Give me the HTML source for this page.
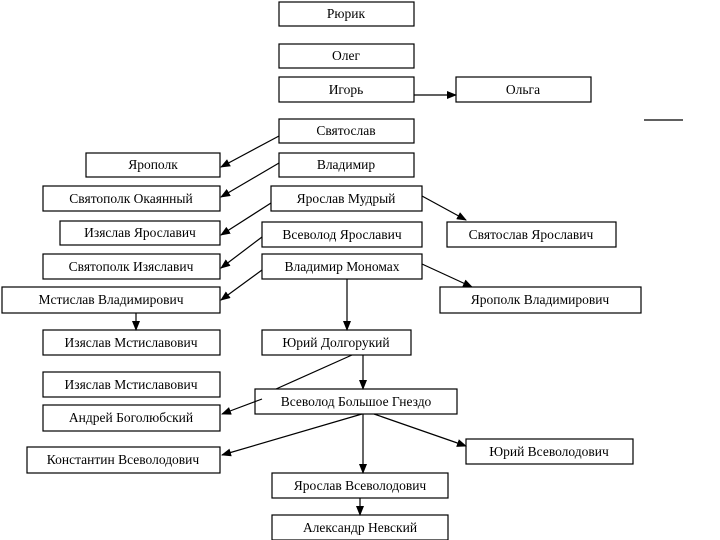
<!DOCTYPE html>
<html><head><meta charset="utf-8"><style>
html,body{margin:0;padding:0;background:#fff;}
svg{display:block;}
text{font-family:"Liberation Serif","DejaVu Serif",serif;font-size:13.5px;fill:#000;text-anchor:middle;}
rect{fill:#fff;stroke:#000;stroke-width:1.2;}
line,path{stroke:#000;stroke-width:1.2;fill:none;}
</style></head><body>
<svg width="720" height="540" viewBox="0 0 720 540" xmlns="http://www.w3.org/2000/svg">
<defs><marker id="a" markerWidth="10" markerHeight="8" refX="9" refY="4" orient="auto" markerUnits="userSpaceOnUse"><path d="M0,0 L10,4 L0,8 z" style="fill:#000;stroke:none"/></marker></defs>
<g>
<rect x="279" y="2" width="135" height="24"/><text x="346" y="18">Рюрик</text>
<rect x="279" y="44" width="135" height="24"/><text x="346" y="60">Олег</text>
<rect x="279" y="77" width="135" height="25"/><text x="346" y="94">Игорь</text>
<rect x="456" y="77" width="135" height="25"/><text x="523" y="94">Ольга</text>
<line x1="644" y1="120" x2="683" y2="120"/>
<rect x="279" y="119" width="135" height="24"/><text x="346" y="135">Святослав</text>
<rect x="86" y="153" width="134" height="24"/><text x="153" y="169">Ярополк</text>
<rect x="279" y="153" width="135" height="24"/><text x="346" y="169">Владимир</text>
<rect x="43" y="186" width="177" height="25"/><text x="131" y="203">Святополк Окаянный</text>
<rect x="271" y="186" width="151" height="25"/><text x="346" y="203">Ярослав Мудрый</text>
<rect x="60" y="221" width="160" height="24"/><text x="140" y="237">Изяслав Ярославич</text>
<rect x="262" y="222" width="160" height="25"/><text x="342" y="239">Всеволод Ярославич</text>
<rect x="447" y="222" width="169" height="25"/><text x="531" y="239">Святослав Ярославич</text>
<rect x="43" y="254" width="177" height="25"/><text x="131" y="271">Святополк Изяславич</text>
<rect x="262" y="254" width="160" height="25"/><text x="342" y="271">Владимир Мономах</text>
<rect x="2" y="287" width="218" height="26"/><text x="111" y="304">Мстислав Владимирович</text>
<rect x="440" y="287" width="201" height="26"/><text x="540" y="304">Ярополк Владимирович</text>
<rect x="43" y="330" width="177" height="25"/><text x="131" y="347">Изяслав Мстиславович</text>
<rect x="262" y="330" width="149" height="25"/><text x="336" y="347">Юрий Долгорукий</text>
<rect x="43" y="372" width="177" height="25"/><text x="131" y="389">Изяслав Мстиславович</text>
<rect x="255" y="389" width="202" height="25"/><text x="356" y="406">Всеволод Большое Гнездо</text>
<rect x="43" y="405" width="177" height="26"/><text x="131" y="422">Андрей Боголюбский</text>
<rect x="27" y="447" width="193" height="26"/><text x="123" y="464">Константин Всеволодович</text>
<rect x="466" y="439" width="167" height="25"/><text x="549" y="456">Юрий Всеволодович</text>
<rect x="272" y="473" width="176" height="25"/><text x="360" y="490">Ярослав Всеволодович</text>
<rect x="272" y="515" width="176" height="25"/><text x="360" y="532">Александр Невский</text>
</g>
<g>
<line x1="414" y1="95" x2="456" y2="95" marker-end="url(#a)"/>
<line x1="279" y1="136" x2="221" y2="167" marker-end="url(#a)"/>
<line x1="279" y1="163" x2="221" y2="197" marker-end="url(#a)"/>
<line x1="271" y1="203" x2="221" y2="235" marker-end="url(#a)"/>
<line x1="262" y1="237" x2="221" y2="268" marker-end="url(#a)"/>
<line x1="262" y1="270" x2="221" y2="300" marker-end="url(#a)"/>
<line x1="422" y1="196" x2="466" y2="220" marker-end="url(#a)"/>
<line x1="422" y1="264" x2="472" y2="287" marker-end="url(#a)"/>
<line x1="136" y1="313" x2="136" y2="330" marker-end="url(#a)"/>
<line x1="347" y1="279" x2="347" y2="330" marker-end="url(#a)"/>
<line x1="352" y1="355" x2="276" y2="389"/>
<line x1="363" y1="355" x2="363" y2="389" marker-end="url(#a)"/>
<line x1="262" y1="399" x2="222" y2="414" marker-end="url(#a)"/>
<line x1="362" y1="414" x2="222" y2="455" marker-end="url(#a)"/>
<line x1="363" y1="414" x2="363" y2="473" marker-end="url(#a)"/>
<line x1="374" y1="414" x2="466" y2="446" marker-end="url(#a)"/>
<line x1="360" y1="498" x2="360" y2="515" marker-end="url(#a)"/>
</g>
</svg>
</body></html>
